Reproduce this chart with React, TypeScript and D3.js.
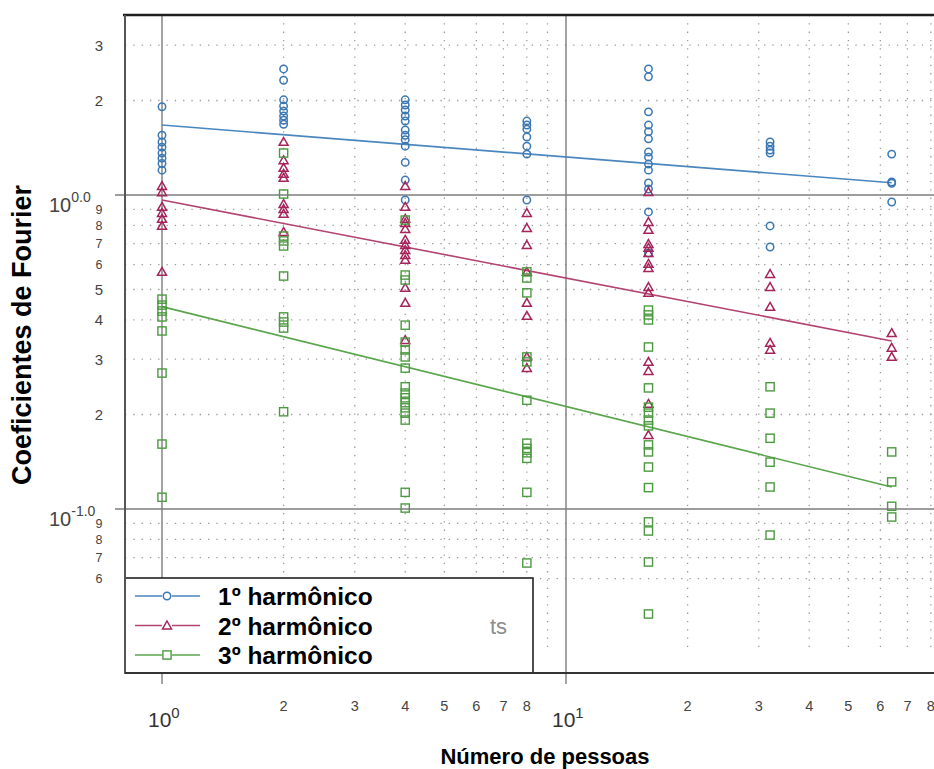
import React from "react";
import * as d3 from "d3";

// ---- data ----
const xCols = [1, 2, 4, 8, 16, 32, 64];

const harmonic1 = [
  [1.91, 1.55, 1.475, 1.42, 1.36, 1.31, 1.26, 1.2],
  [2.52, 2.32, 2.01, 1.92, 1.85, 1.785, 1.73, 1.68],
  [2.01, 1.935, 1.865, 1.785, 1.72, 1.61, 1.55, 1.5, 1.43, 1.27, 1.116, 0.964],
  [1.72, 1.67, 1.62, 1.53, 1.43, 1.35, 0.964],
  [2.52, 2.38, 1.84, 1.67, 1.59, 1.51, 1.37, 1.32, 1.255, 1.2, 1.092, 1.045, 0.883, 0.653],
  [1.475, 1.43, 1.39, 1.36, 0.797, 0.683],
  [1.35, 1.1, 1.09, 0.95],
];

const harmonic2 = [
  [1.068, 1.02, 0.916, 0.876, 0.839, 0.797, 0.569],
  [1.475, 1.29, 1.22, 1.167, 1.133, 0.936, 0.902, 0.87, 0.762],
  [1.068, 0.916, 0.839, 0.814, 0.779, 0.719, 0.693, 0.668, 0.644, 0.621, 0.506, 0.453, 0.345],
  [0.876, 0.785, 0.693, 0.569, 0.453, 0.412, 0.305, 0.281],
  [1.022, 0.82, 0.774, 0.698, 0.678, 0.653, 0.603, 0.585, 0.509, 0.488, 0.294, 0.275, 0.216, 0.172],
  [0.56, 0.509, 0.44, 0.338, 0.321],
  [0.363, 0.326, 0.305],
];

const harmonic3 = [
  [0.466, 0.446, 0.427, 0.409, 0.369, 0.271, 0.161, 0.109],
  [1.36, 1.007, 0.74, 0.714, 0.688, 0.552, 0.409, 0.394, 0.377, 0.204],
  [0.832, 0.556, 0.536, 0.385, 0.34, 0.321, 0.305, 0.281, 0.245, 0.234, 0.226, 0.218, 0.21, 0.202, 0.192, 0.113, 0.1007],
  [0.569, 0.544, 0.488, 0.305, 0.294, 0.222, 0.162, 0.156, 0.151, 0.145, 0.113, 0.0673],
  [0.43, 0.415, 0.4, 0.328, 0.243, 0.211, 0.202, 0.192, 0.184, 0.16, 0.152, 0.136, 0.117, 0.091, 0.0851, 0.0678, 0.0463],
  [0.245, 0.202, 0.168, 0.141, 0.1175, 0.0826],
  [0.152, 0.122, 0.102, 0.0943],
];

// fitted power-law trend: value at first and last column
const trendX = [1, 64];
const trend1 = [1.67, 1.094];
const trend2 = [0.964, 0.343];
const trend3 = [0.441, 0.1175];

const seriesNames = ["1º harmônico", "2º harmônico", "3º harmônico"];

const xMinorTicks = [2, 3, 4, 5, 6, 7, 8, 9, 20, 30, 40, 50, 60, 70, 80, 90];
const xMinorLabels = [2, 3, 4, 5, 6, 7, 8, 20, 30, 40, 50, 60, 70, 80];
const xMajorTicks = [1, 10];
const yMinorTicks = [3, 2, 0.9, 0.8, 0.7, 0.6, 0.5, 0.4, 0.3, 0.2, 0.09, 0.08, 0.07, 0.06];
const yMajorTicks = [1, 0.1];
const yMajorLabels = ["0.0", "-1.0"];

// ---- layout ----
const W = 934;
const H = 769;
const plotLeft = 125;
const plotTop = 15;
const plotBottom = 673;
const plotRight = 940;

const FONT = "'Liberation Sans', Arial, Helvetica, sans-serif";
const BLUE = "#3a77b3";
const BLUE_LINE = "#4a86bf";
const RED = "#a6245c";
const RED_LINE = "#b24372";
const GREEN = "#4c9a40";
const GREEN_LINE = "#5aa54c";

const x = d3.scaleLog().domain([1, 10]).range([162, 566]);
const y = d3.scaleLog().domain([1, 0.1]).range([195, 509]);

function Marker({ kind, cx, cy, color }: { kind: number; cx: number; cy: number; color: string }) {
  if (kind === 0) {
    return <circle cx={cx} cy={cy} r={3.7} fill="none" stroke={color} strokeWidth={1.5} />;
  }
  if (kind === 1) {
    const s = 4.5;
    const p = `M${cx},${cy - s}L${cx + s},${cy + s * 0.75}L${cx - s},${cy + s * 0.75}Z`;
    return <path d={p} fill="none" stroke={color} strokeWidth={1.5} />;
  }
  const s = 4.1;
  return <rect x={cx - s} y={cy - s} width={s * 2} height={s * 2} fill="none" stroke={color} strokeWidth={1.4} />;
}

export default function App() {
  const series = [
    { data: harmonic1, trend: trend1, color: BLUE, line: BLUE_LINE },
    { data: harmonic2, trend: trend2, color: RED, line: RED_LINE },
    { data: harmonic3, trend: trend3, color: GREEN, line: GREEN_LINE },
  ];

  const trendLine = d3
    .line<[number, number]>()
    .x((d) => x(d[0]))
    .y((d) => y(d[1]));

  const minorFmt = (v: number) => {
    const s = String(v);
    return s.replace("0.0", "").replace("0.", "").replace(/0$/, "");
  };

  return (
    <svg
      width={W}
      height={H}
      style={{ position: "absolute", left: 0, top: 0, background: "#fff" }}
      fontFamily={FONT}
    >
      <rect x={0} y={0} width={W} height={H} fill="#fff" />
      <defs>
        <clipPath id="plotclip">
          <rect x={plotLeft} y={plotTop} width={plotRight - plotLeft} height={plotBottom - plotTop} />
        </clipPath>
      </defs>

      {/* minor dotted grid */}
      <g stroke="#9a9a9a" strokeWidth={1.3} strokeDasharray="1.3 7">
        {yMinorTicks.map((v) => (
          <line key={"hy" + v} x1={plotLeft} x2={plotRight} y1={y(v)} y2={y(v)} />
        ))}
        {xMinorTicks.map((v) => (
          <line key={"vx" + v} x1={x(v)} x2={x(v)} y1={plotTop} y2={652} />
        ))}
      </g>

      {/* major grid */}
      <g stroke="#7d7d7d" strokeWidth={1.4}>
        {yMajorTicks.map((v) => (
          <line key={"my" + v} x1={115} x2={plotRight} y1={y(v)} y2={y(v)} />
        ))}
        {xMajorTicks.map((v) => (
          <line key={"mx" + v} x1={x(v)} x2={x(v)} y1={plotTop} y2={684} />
        ))}
      </g>

      {/* trend lines */}
      <g clipPath="url(#plotclip)">
        {series.map((s, i) => (
          <path
            key={"t" + i}
            d={trendLine([
              [trendX[0], s.trend[0]],
              [trendX[1], s.trend[1]],
            ]) as string}
            fill="none"
            stroke={s.line}
            strokeWidth={1.6}
          />
        ))}
      </g>

      {/* points */}
      <g clipPath="url(#plotclip)">
        {series.map((s, i) =>
          s.data.map((col, ci) =>
            col.map((v, k) => (
              <Marker key={`p${i}-${ci}-${k}`} kind={i} cx={x(xCols[ci])} cy={y(v)} color={s.color} />
            ))
          )
        )}
      </g>

      {/* legend */}
      <rect x={plotLeft} y={578} width={533 - plotLeft} height={plotBottom - 578} fill="#fff" stroke="#222" strokeWidth={1.6} />
      <text x={490} y={634} fontSize={22} fill="#8c8c8c">
        ts
      </text>
      {series.map((s, i) => {
        const ry = 596 + i * 29.5;
        return (
          <g key={"lg" + i}>
            <line x1={135} x2={200} y1={ry} y2={ry} stroke={s.line} strokeWidth={1.6} />
            <g>
              <rect x={162} y={ry - 5} width={10} height={10} fill="#fff" stroke="none" />
              <Marker kind={i} cx={167} cy={ry} color={s.color} />
            </g>
            <text x={218} y={ry + 9} fontSize={24.5} fontWeight="bold" fill="#000">
              {seriesNames[i]}
            </text>
          </g>
        );
      })}

      {/* frame */}
      <line x1={123} x2={W} y1={plotTop} y2={plotTop} stroke="#1e1e1e" strokeWidth={2.6} />
      <line x1={plotLeft} x2={plotLeft} y1={plotTop} y2={plotBottom} stroke="#555" strokeWidth={2} />
      <line x1={plotLeft} x2={W} y1={plotBottom} y2={plotBottom} stroke="#333" strokeWidth={2} />

      {/* x tick labels */}
      <g fill="#444" fontSize={14.5} textAnchor="middle">
        {xMinorLabels.map((v) => (
          <text key={"xl" + v} x={x(v)} y={711}>
            {String(v).replace(/0$/, "")}
          </text>
        ))}
      </g>
      <g fill="#333">
        {xMajorTicks.map((v, i) => (
          <text key={"xm" + v} x={x(v) - 14} y={727} fontSize={21}>
            10
            <tspan dy={-9} fontSize={15}>
              {String(i)}
            </tspan>
          </text>
        ))}
      </g>

      {/* y tick labels */}
      <g fill="#444" textAnchor="middle">
        {yMinorTicks.map((v) => {
          const lbl = minorFmt(v);
          const small = ["9", "8", "7", "6"].includes(lbl) && v < 1;
          return (
            <text key={"yl" + v} x={99} y={y(v) + (small ? 4.5 : 5.5)} fontSize={small ? 12.5 : 15}>
              {lbl}
            </text>
          );
        })}
      </g>
      <g fill="#444">
        {yMajorTicks.map((v, i) => (
          <text key={"ym" + v} x={49} y={y(v) + 17} fontSize={20}>
            10
            <tspan dy={-10} fontSize={14}>
              {yMajorLabels[i]}
            </tspan>
          </text>
        ))}
      </g>

      {/* axis titles */}
      <text x={545} y={764} fontSize={22} fontWeight="bold" textAnchor="middle" fill="#000">
        Número de pessoas
      </text>
      <text
        transform={`translate(31, ${335}) rotate(-90)`}
        fontSize={27}
        fontWeight="bold"
        textAnchor="middle"
        fill="#000"
      >
        Coeficientes de Fourier
      </text>
    </svg>
  );
}
